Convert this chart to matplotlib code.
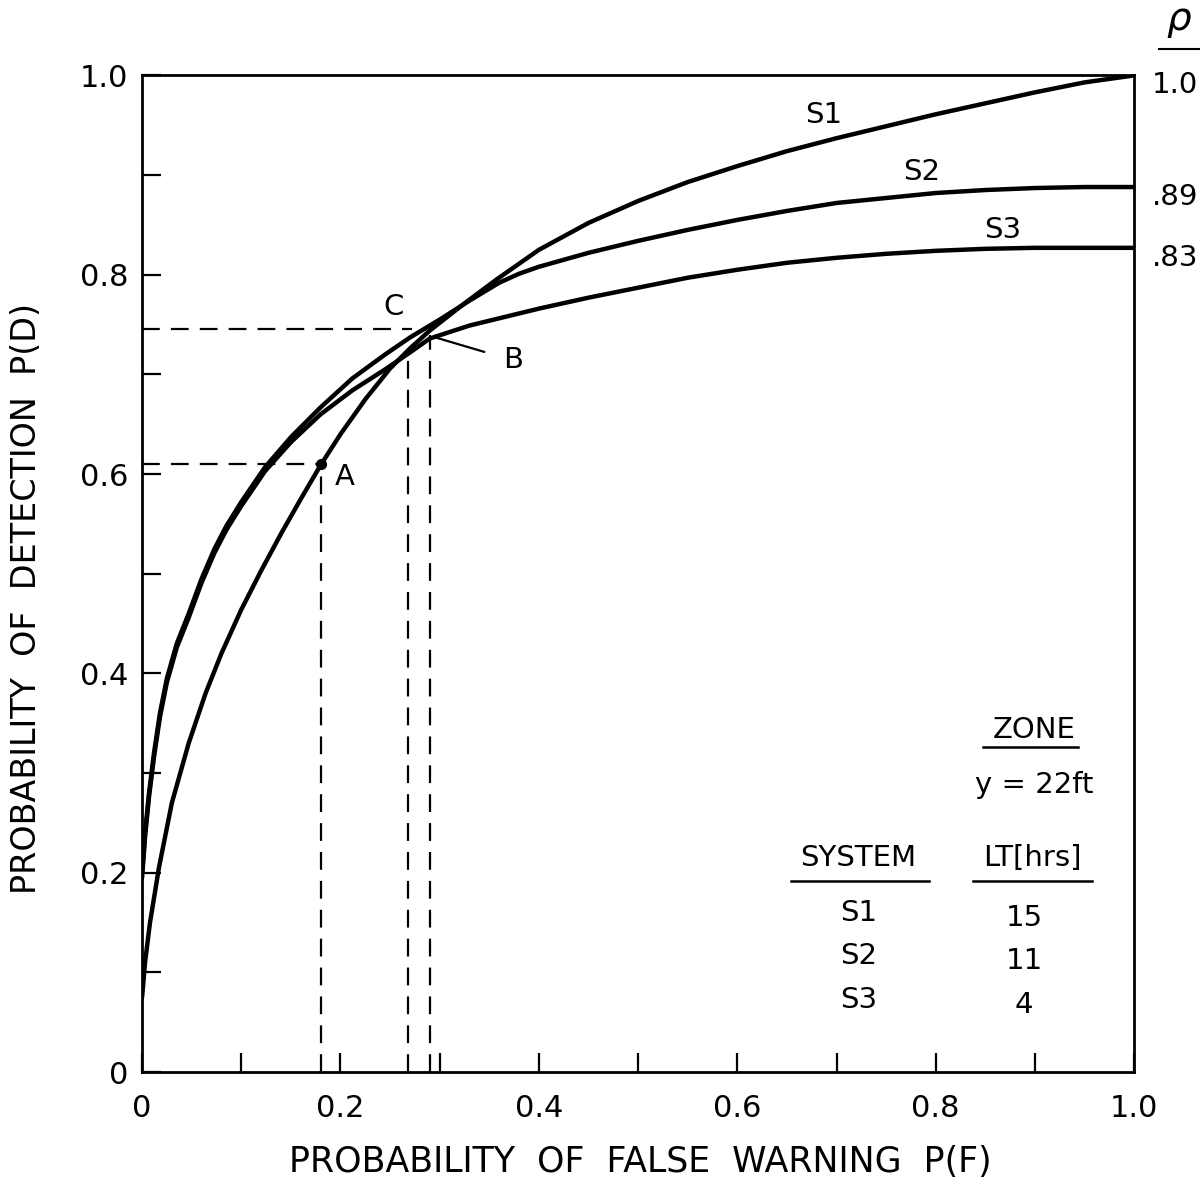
import numpy as np
import matplotlib
matplotlib.use("Agg")
import matplotlib.pyplot as plt

plt.rcParams['font.family'] = ['DejaVu Sans']

# ROC curves: P(F) vs P(D)
s1_x = [0.0, 0.003, 0.008, 0.017, 0.030, 0.047, 0.064, 0.080, 0.100, 0.120, 0.140,
        0.160, 0.180, 0.200, 0.225, 0.250, 0.270, 0.290, 0.326, 0.357, 0.400,
        0.450, 0.500, 0.550, 0.600, 0.650, 0.700, 0.750, 0.800, 0.850, 0.900,
        0.950, 1.0]
s1_y = [0.075, 0.110, 0.150, 0.205, 0.270, 0.330, 0.380, 0.420, 0.464, 0.503, 0.540,
        0.575, 0.609, 0.640, 0.675, 0.706, 0.726, 0.744, 0.772, 0.795, 0.825,
        0.852, 0.874, 0.893, 0.909, 0.924, 0.937, 0.949, 0.961, 0.972, 0.983,
        0.993, 1.0]

s2_x = [0.0, 0.003, 0.007, 0.012, 0.018, 0.025, 0.035, 0.047, 0.060, 0.073, 0.085,
        0.100, 0.124, 0.150, 0.180, 0.212, 0.245, 0.270, 0.300, 0.330, 0.360,
        0.380, 0.400, 0.450, 0.500, 0.550, 0.600, 0.650, 0.700, 0.750, 0.800,
        0.850, 0.900, 0.950, 1.0]
s2_y = [0.200, 0.240, 0.280, 0.320, 0.360, 0.395, 0.430, 0.460, 0.495, 0.525, 0.548,
        0.572, 0.607, 0.637, 0.667, 0.696, 0.720, 0.737, 0.755, 0.774, 0.792,
        0.801, 0.808, 0.822, 0.834, 0.845, 0.855, 0.864, 0.872, 0.877, 0.882,
        0.885, 0.887, 0.888, 0.888]

s3_x = [0.0, 0.003, 0.007, 0.012, 0.018, 0.025, 0.035, 0.047, 0.060, 0.073, 0.085,
        0.100, 0.124, 0.150, 0.180, 0.212, 0.245, 0.270, 0.290, 0.330, 0.400,
        0.450, 0.500, 0.550, 0.600, 0.650, 0.700, 0.750, 0.800, 0.850, 0.900,
        1.0]
s3_y = [0.195, 0.236, 0.276, 0.316, 0.356, 0.391, 0.426, 0.456, 0.491, 0.521, 0.544,
        0.568, 0.603, 0.632, 0.660, 0.684, 0.705, 0.722, 0.736, 0.749, 0.766,
        0.777, 0.787, 0.797, 0.805, 0.812, 0.817, 0.821, 0.824, 0.826, 0.827,
        0.827]

# operating points
pt_A = (0.18, 0.61)
pt_C = (0.272, 0.746)
drop_C = (0.268, 0.72)
drop_B = (0.29, 0.74)

rho_labels = ['1.0', '.89', '.83']
systems = ['S1', 'S2', 'S3']
lt_hrs = ['15', '11', '4']

fig = plt.figure(figsize=(12.04, 11.97), dpi=100)
ax = fig.add_axes([0.118, 0.1044, 0.824, 0.8326])

lw = 3.2
for xs, ys in [(s1_x, s1_y), (s2_x, s2_y), (s3_x, s3_y)]:
    ax.plot(xs, ys, color='black', lw=lw, solid_capstyle='round', solid_joinstyle='round')

dash = (0, (8, 5))
dlw = 1.6
ax.plot([0, pt_A[0]], [pt_A[1], pt_A[1]], color='black', lw=dlw, linestyle=dash)
ax.plot([pt_A[0], pt_A[0]], [0, pt_A[1]], color='black', lw=dlw, linestyle=dash)
ax.plot([0, pt_C[0]], [pt_C[1], pt_C[1]], color='black', lw=dlw, linestyle=dash)
ax.plot([drop_C[0], drop_C[0]], [0, drop_C[1]], color='black', lw=dlw, linestyle=dash)
ax.plot([drop_B[0], drop_B[0]], [0, drop_B[1]], color='black', lw=dlw, linestyle=dash)
ax.plot([pt_A[0]], [pt_A[1]], 'o', color='black', ms=7)

fs = 21
ax.text(0.204, 0.597, 'A', fontsize=fs, ha='center', va='center')
ax.text(0.253, 0.768, 'C', fontsize=fs, ha='center', va='center')
ax.annotate('B', xy=(0.296, 0.737), xytext=(0.374, 0.714), fontsize=fs,
            ha='center', va='center',
            arrowprops=dict(arrowstyle='-', color='black', lw=1.6, shrinkA=12, shrinkB=0))

ax.text(0.687, 0.96, 'S1', fontsize=fs, ha='center', va='center')
ax.text(0.786, 0.903, 'S2', fontsize=fs, ha='center', va='center')
ax.text(0.867, 0.845, 'S3', fontsize=fs, ha='center', va='center')

# rho column on the right
ends = [s1_y[-1], s2_y[-1], s3_y[-1]]
for lab, yv in zip(rho_labels, ends):
    ax.text(1.018, yv - 0.010, lab, fontsize=fs, ha='left', va='center', clip_on=False)
ax.text(1.045, 1.055, r'$\rho$', fontsize=28, ha='center', va='center', clip_on=False)
ax.plot([1.025, 1.065], [1.027, 1.027], color='black', lw=1.5, clip_on=False)

# zone / system table
ax.text(0.899, 0.343, 'ZONE', fontsize=fs, ha='center', va='center')
ax.plot([0.848, 0.943], [0.326, 0.326], color='black', lw=1.8)
ax.text(0.899, 0.288, 'y = 22ft', fontsize=fs, ha='center', va='center')
ax.text(0.722, 0.215, 'SYSTEM', fontsize=fs, ha='center', va='center')
ax.plot([0.654, 0.793], [0.192, 0.192], color='black', lw=1.8)
ax.text(0.897, 0.215, 'LT[hrs]', fontsize=fs, ha='center', va='center')
ax.plot([0.838, 0.957], [0.192, 0.192], color='black', lw=1.8)
for i, (s, h) in enumerate(zip(systems, lt_hrs)):
    yy = 0.160 - 0.044 * i
    ax.text(0.722, yy, s, fontsize=fs, ha='center', va='center')
    ax.text(0.889, yy - 0.005, h, fontsize=fs, ha='center', va='center')

ax.set_xlim(0, 1)
ax.set_ylim(0, 1)
ax.set_xticks([0, 0.2, 0.4, 0.6, 0.8, 1.0])
ax.set_xticklabels(['0', '0.2', '0.4', '0.6', '0.8', '1.0'])
ax.set_xticks([0.1, 0.3, 0.5, 0.7, 0.9], minor=True)
ax.set_yticks([0, 0.2, 0.4, 0.6, 0.8, 1.0])
ax.set_yticklabels(['0', '0.2', '0.4', '0.6', '0.8', '1.0'])
ax.set_yticks([0.1, 0.3, 0.5, 0.7, 0.9], minor=True)
ax.tick_params(axis='both', which='both', direction='in', length=14, width=1.6,
               top=False, right=False, labelsize=22)
ax.tick_params(axis='x', which='major', pad=16)
ax.tick_params(axis='y', which='major', pad=10)
for sp in ax.spines.values():
    sp.set_linewidth(2.0)

fig.text(0.532, 0.029, 'PROBABILITY  OF  FALSE  WARNING  P(F)', fontsize=25,
         ha='center', va='center')
fig.text(0.022, 0.5, 'PROBABILITY  OF  DETECTION  P(D)', fontsize=24,
         ha='center', va='center', rotation=90)

fig.savefig('out.png', dpi=100)
